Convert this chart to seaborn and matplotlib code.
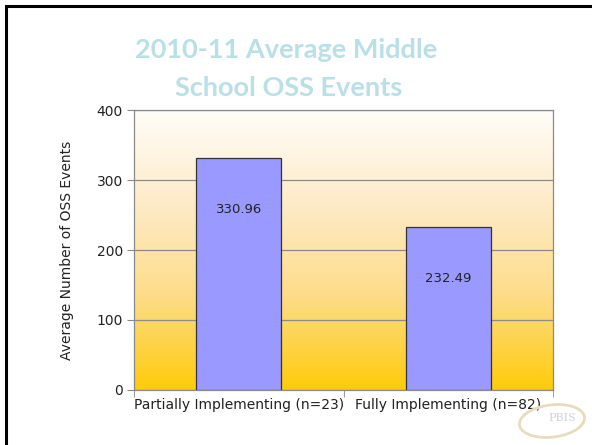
import numpy as np
import pandas as pd
import seaborn as sns
import matplotlib.pyplot as plt
from matplotlib.colors import LinearSegmentedColormap
from matplotlib.patches import Rectangle, Ellipse

# Chart data
categories = ['Partially Implementing (n=23)', 'Fully Implementing (n=82)']
avg_events = [330.96, 232.49]
y_ticks = [0, 100, 200, 300, 400]

df = pd.DataFrame({'group': categories, 'events': avg_events})

sns.set_style('white')
plt.rcParams['font.family'] = ['DejaVu Sans']

fig = plt.figure(figsize=(5.92, 4.45), dpi=100)
ax = fig.add_axes([0.2264, 0.1236, 0.7078, 0.6292])

# slide border (left and top edges only visible)
fig.patches.append(Rectangle((6 / 592, -0.1), 1.2, 1 - 6 / 445 + 0.1,
                             transform=fig.transFigure, fill=False,
                             edgecolor='black', linewidth=2.2))

# gradient plot background
cmap = LinearSegmentedColormap.from_list('gold', ['#FFCB0A', '#FDDC88', '#FEEBC8', '#FFFDF9'])
grad = np.linspace(0, 1, 256).reshape(-1, 1)
ax.imshow(grad, cmap=cmap, aspect='auto', origin='lower',
          extent=[0, 1, 0, 1], transform=ax.transAxes, zorder=0)

sns.barplot(data=df, x='group', y='events', color='#9999FF', saturation=1,
            width=0.406, edgecolor='#333333', linewidth=0.9, ax=ax, zorder=3)

ax.set_xlim(-0.5, 1.5)
ax.set_ylim(0, 400)
ax.set_yticks(y_ticks)
ax.yaxis.grid(True, color='#8a8a8a', linewidth=0.9, zorder=1)
ax.set_axisbelow(True)

for sp in ax.spines.values():
    sp.set_color('#8a8a8a')
    sp.set_linewidth(0.9)

ax.tick_params(axis='y', left=True, length=5, color='#8a8a8a', labelsize=10,
               labelcolor='#222222', pad=3)
ax.tick_params(axis='x', which='major', length=0, labelsize=10,
               labelcolor='#222222', pad=6)
ax.set_xticks([-0.5, 0.5, 1.5], minor=True)
ax.tick_params(axis='x', which='minor', bottom=True, length=5, color='#8a8a8a')

ax.set_xlabel('')
ax.set_ylabel('Average Number of OSS Events', fontsize=10, color='#222222', labelpad=16)

for i, v in enumerate(avg_events):
    ax.annotate(f'{v:.2f}', xy=(i, v), xytext=(0, -37), textcoords='offset points',
                ha='center', va='center', fontsize=9.5, color='#222222', zorder=5)

fig.text(0.484, 1 - 50 / 445, '2010-11 Average Middle', ha='center', va='center',
         fontsize=19.5, fontweight='bold', color='#B9DFE7', family='Lato')
fig.text(0.487, 1 - 88 / 445, 'School OSS Events', ha='center', va='center',
         fontsize=19.5, fontweight='bold', color='#B9DFE7', family='Lato')

# faint logo in the corner
fig.patches.append(Ellipse((552 / 592, 1 - 421 / 445), 66 / 592, 32 / 445,
                           angle=12, transform=fig.transFigure, fill=False,
                           edgecolor='#E6DCC0', linewidth=2))
fig.text(562 / 592, 1 - 418 / 445, 'PBIS', ha='center', va='center', fontsize=8,
         color='#D0D3DE', family='DejaVu Serif')

fig.savefig('out.png', dpi=100)
